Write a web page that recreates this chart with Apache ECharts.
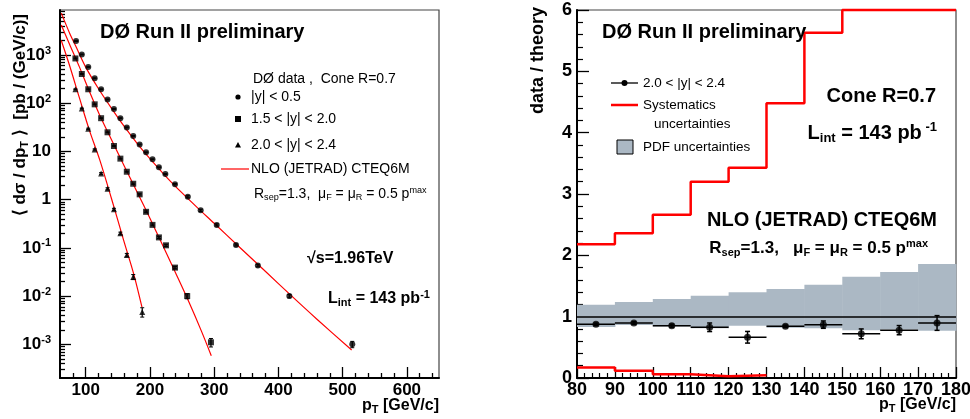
<!DOCTYPE html>
<html><head><meta charset="utf-8">
<script src="https://cdn.jsdelivr.net/npm/echarts@6/dist/echarts.min.js"></script>
<style>html,body{margin:0;padding:0;background:#fff}#c{width:970px;height:419px}</style>
</head><body><div id="c"></div>
<script>
// ---------- Left panel: <dsigma/dpT> [pb/(GeV/c)] ----------
const ptCentral = [85,94,104,114,124,134,144,154,164,174,184,194,204,214,224,239,259,279,304,334,368,417,515];
const xsCentral = [1950,1030,565,330,195,120,76,49,31.6,21,14,9.6,6.9,4.7,3.4,2.1,1.15,0.6,0.3,0.115,0.043,0.010,0.0010];
const errCentral = [0.02,0.02,0.02,0.02,0.02,0.02,0.02,0.02,0.02,0.02,0.02,0.02,0.02,0.02,0.02,0.03,0.05,0.05,0.05,0.05,0.06,0.08,0.15];
const ptFwd1 = [84,94,104,114,124,134,144,154,164,174,184,194,204,214,225,239,258,295];
const xsFwd1 = [850,405,195,95,49,25,13,7.1,3.8,2.14,1.29,0.56,0.30,0.165,0.113,0.039,0.010,0.0011];
const errFwd1 = [0.02,0.02,0.02,0.02,0.02,0.02,0.02,0.02,0.02,0.03,0.03,0.04,0.04,0.05,0.05,0.06,0.12,0.2];
const ptFwd2 = [84,94,104,114,124,134,144,154,164,174,188];
const xsFwd2 = [195,78,29.5,11,3.5,1.68,0.63,0.2,0.071,0.025,0.0047];
const errFwd2 = [0.02,0.02,0.03,0.03,0.04,0.05,0.05,0.06,0.08,0.12,0.22];
// NLO (JETRAD) CTEQ6M curves
const nloPtCentral = [62,75,85,100,120,140,160,180,200,225,250,275,300,340,380,420,460,514];
const nloCentral = [7400,2840,1480,562,200,79.4,33.1,14.8,7.08,3.02,1.38,0.661,0.324,0.102,0.0324,0.0102,0.00331,0.00076];
const nloPtFwd1 = [62,75,90,105,122,140,160,180,200,216,240,260,280,295.5];
const nloFwd1 = [4200,1660,575,186,56,17.8,5.0,1.45,0.41,0.145,0.030,0.0079,0.0019,0.00058];
const nloPtFwd2 = [62,75,90,105,122,140,159,175,187.6];
const nloFwd2 = [2000,600,132,29.5,6.6,1.07,0.145,0.028,0.0059];
// axis ticks (left)
const xMajorL = [100,200,300,400,500,600];
const yDecadesL = [1e-3,1e-2,1e-1,1,10,100,1000];

// ---------- Right panel: data / theory, 2.0<|y|<2.4 ----------
const binEdges = [80,90,100,110,120,130,140,150,160,170,180];
const ratio = [0.876,0.897,0.853,0.827,0.664,0.843,0.87,0.72,0.78,0.897];
const ratioErr = [0.02,0.02,0.025,0.07,0.095,0.02,0.06,0.08,0.075,0.12];
const pdfHigh = [1.196,1.24,1.29,1.34,1.40,1.45,1.52,1.65,1.73,1.86];
const pdfLow = [0.83,0.865,0.84,0.81,0.85,0.82,0.81,0.78,0.79,0.77];
const sysHigh = [2.18,2.36,2.66,3.20,3.43,4.48,5.63,6.0,6.0,6.0];
const sysLow = [0.17,0.12,0.06,0.03,0.045];

// ---------- build ----------
const FB = "'Liberation Sans', Arial, Helvetica, sans-serif";
const FN = "'Liberation Sans', Arial, Helvetica, sans-serif";
const BAND = '#abb8c4';
const RED = '#ff0000';

const xMinorL = []; for (let v = 80; v < 650; v += 20) if (v % 100) xMinorL.push(v);
const yMinorL = [];
for (let e = -4; e <= 3; e++) for (let k = 2; k <= 9; k++) { const v = +(k * Math.pow(10, e)).toPrecision(3); if (v > 2e-4 && v < 8600) yMinorL.push(v); }

const zip = (a, b) => a.map((x, i) => [x, b[i]]);
const centers = binEdges.slice(0, -1).map((e, i) => (e + binEdges[i + 1]) / 2);

function errLog(pts, vals, errs) {
  return {
    type: 'custom', xAxisIndex: 0, yAxisIndex: 0, z: 4, clip: false,
    data: pts.map((p, i) => [p, vals[i] * (1 - errs[i]), vals[i] * (1 + errs[i])]),
    renderItem: (params, api) => {
      const a = api.coord([api.value(0), api.value(1)]);
      const b = api.coord([api.value(0), api.value(2)]);
      return { type: 'group', children: [
        { type: 'line', shape: { x1: a[0], y1: a[1], x2: b[0], y2: b[1] }, style: { stroke: '#000', lineWidth: 1.2 } },
        { type: 'line', shape: { x1: a[0] - 2, y1: a[1], x2: a[0] + 2, y2: a[1] }, style: { stroke: '#000', lineWidth: 1 } },
        { type: 'line', shape: { x1: b[0] - 2, y1: b[1], x2: b[0] + 2, y2: b[1] }, style: { stroke: '#000', lineWidth: 1 } }
      ]};
    }
  };
}
function nlo(pts, vals) {
  return { type: 'line', xAxisIndex: 0, yAxisIndex: 0, data: zip(pts, vals), smooth: 0.3, showSymbol: false,
    lineStyle: { color: RED, width: 1.2 }, z: 2, silent: true };
}
function pts(p, v, sym, size) {
  return { type: 'scatter', xAxisIndex: 0, yAxisIndex: 0, data: zip(p, v), symbol: sym, symbolSize: size,
    itemStyle: { color: '#000' }, z: 5 };
}

const axisLineS = { show: true, lineStyle: { color: '#000', width: 2 } };
const tickS = (len, vals) => ({ show: true, inside: true, length: len, customValues: vals, lineStyle: { color: '#000', width: 1.3 } });
const noSplit = { show: false };

const sup = { fontSize: 11, fontWeight: 'bold', fontFamily: FB, color: '#000', padding: [0, 0, 9, 0] };

function txt(x, y, text, opts) {
  return { type: 'text', x: x, y: y, z: 100, style: Object.assign({ text: text, fill: '#000', align: 'left', verticalAlign: 'middle' }, opts) };
}
const bold = (size) => ({ font: 'bold ' + size + 'px ' + FB });
const richB = (size, sub, sup2) => ({
  n: { fontSize: size, fontWeight: 'bold', fontFamily: FB, color: '#000' },
  sub: { fontSize: sub, fontWeight: 'bold', fontFamily: FB, color: '#000', padding: [Math.round(size * 0.5), 0, 0, 0] },
  sup: { fontSize: sup2, fontWeight: 'bold', fontFamily: FB, color: '#000', padding: [0, 0, Math.round(size * 0.55), 0] }
});
const richN = (size) => ({
  n: { fontSize: size, fontFamily: FN, color: '#000' },
  sub: { fontSize: size * 0.65, fontFamily: FN, color: '#000', padding: [7, 0, 0, 0] },
  sup: { fontSize: size * 0.65, fontFamily: FN, color: '#000', padding: [0, 0, 8, 0] }
});

const graphics = [
  // left panel texts
  txt(100, 32, 'DØ Run II preliminary', bold(20)),
  txt(253, 79, 'DØ data ,  Cone R=0.7', { font: '14px ' + FN }),
  { type: 'circle', x: 238, y: 97, shape: { r: 2.6 }, style: { fill: '#000' }, z: 100 },
  txt(251, 97, '|y| < 0.5', { font: '14px ' + FN }),
  { type: 'rect', shape: { x: 235, y: 116, width: 6, height: 6 }, style: { fill: '#000' }, z: 100 },
  txt(251, 119, '1.5 < |y| < 2.0', { font: '14px ' + FN }),
  { type: 'polygon', shape: { points: [[238, 142], [241, 147.5], [235, 147.5]] }, style: { fill: '#000' }, z: 100 },
  txt(251, 145, '2.0 < |y| < 2.4', { font: '14px ' + FN }),
  { type: 'line', shape: { x1: 221, y1: 169, x2: 249, y2: 169 }, style: { stroke: RED, lineWidth: 1.2 }, z: 100 },
  txt(251, 169, 'NLO (JETRAD) CTEQ6M', { font: '14px ' + FN }),
  txt(254, 194, '{n|R}{sub|sep}{n|=1.3,  μ}{sub|F}{n| = μ}{sub|R}{n| = 0.5 p}{sup|max}', { rich: richN(14) }),
  txt(307, 259, '√s=1.96TeV', bold(16)),
  txt(328, 299, '{n|L}{sub|int}{n| = 143 pb}{sup|-1}', { rich: richB(16, 11, 11) }),
  // axis titles left
  { type: 'text', x: 20, y: 14, rotation: Math.PI / 2, z: 100,
    style: { text: '{n|⟨ dσ / dp}{sub|T}{n| ⟩  [pb / (GeV/c)]}', rich: richB(17, 11, 11), align: 'right', verticalAlign: 'middle' } },
  txt(439, 406, '{n|p}{sub|T}{n| [GeV/c]}', { rich: richB(16, 11, 11), align: 'right' }),
  // right panel texts
  txt(602, 32, 'DØ Run II preliminary', bold(20)),
  { type: 'line', shape: { x1: 611, y1: 83, x2: 638, y2: 83 }, style: { stroke: '#000', lineWidth: 1.3 }, z: 100 },
  { type: 'circle', x: 624.5, y: 83, shape: { r: 3 }, style: { fill: '#000' }, z: 100 },
  txt(643, 83, '2.0 < |y| < 2.4', { font: '13.5px ' + FN }),
  { type: 'line', shape: { x1: 611, y1: 105, x2: 638, y2: 105 }, style: { stroke: RED, lineWidth: 2.5 }, z: 100 },
  txt(643, 105, 'Systematics', { font: '13.5px ' + FN }),
  txt(654, 124, 'uncertainties', { font: '13.5px ' + FN }),
  { type: 'rect', shape: { x: 617, y: 140, width: 16, height: 14 }, style: { fill: BAND, stroke: '#000', lineWidth: 1 }, z: 100 },
  txt(643, 147, 'PDF uncertainties', { font: '13.5px ' + FN }),
  txt(936, 96, 'Cone R=0.7', Object.assign(bold(20), { align: 'right' })),
  txt(937, 133, '{n|L}{sub|int}{n| = 143 pb}{sup| -1}', { rich: richB(20, 13, 13), align: 'right' }),
  txt(937, 220, 'NLO (JETRAD) CTEQ6M', Object.assign(bold(20), { align: 'right' })),
  txt(928, 248, '{n|R}{sub|sep}{n|=1.3,   μ}{sub|F}{n| = μ}{sub|R}{n| = 0.5 p}{sup|max}', { rich: richB(17, 11, 11), align: 'right' }),
  { type: 'text', x: 538, y: 7, rotation: Math.PI / 2, z: 100,
    style: { text: 'data / theory', font: 'bold 18px ' + FB, fill: '#000', align: 'right', verticalAlign: 'middle' } },
  txt(956, 405, '{n|p}{sub|T}{n| [GeV/c]}', { rich: richB(16, 11, 11), align: 'right' })
];

const option = {
  animation: false,
  backgroundColor: '#fff',
  grid: [
    { left: 60, top: 10, width: 379, height: 368, show: true, borderColor: '#444', borderWidth: 1.2, backgroundColor: 'transparent', containLabel: false, outerBoundsMode: 'none' },
    { left: 577, top: 10, width: 379, height: 368, show: true, borderColor: '#444', borderWidth: 1.2, backgroundColor: 'transparent', containLabel: false, outerBoundsMode: 'none' }
  ],
  xAxis: [
    { gridIndex: 0, type: 'value', min: 60, max: 650, axisLine: axisLineS, splitLine: noSplit,
      axisTick: tickS(11, xMajorL),
      axisLabel: { customValues: xMajorL, fontSize: 17, fontWeight: 'bold', fontFamily: FB, color: '#000', margin: 4 } },
    { gridIndex: 0, type: 'value', min: 60, max: 650, position: 'bottom', axisLine: { show: false }, splitLine: noSplit,
      axisTick: tickS(5, xMinorL), axisLabel: { show: true, customValues: xMinorL, formatter: () => '' } },
    { gridIndex: 1, type: 'value', min: 80, max: 180, interval: 10, axisLine: axisLineS, splitLine: noSplit,
      axisTick: { show: true, inside: true, length: 11, lineStyle: { color: '#000', width: 1.3 } },
      minorTick: { show: true, splitNumber: 5, length: 5, lineStyle: { color: '#000', width: 1.2 } },
      axisLabel: { fontSize: 18, fontWeight: 'bold', fontFamily: FB, color: '#000', margin: 3 } }
  ],
  yAxis: [
    { gridIndex: 0, type: 'log', logBase: 10, min: 2e-4, max: 8600, axisLine: axisLineS, splitLine: noSplit,
      axisTick: tickS(11, yDecadesL),
      axisLabel: { customValues: yDecadesL, margin: 9, color: '#000',
        formatter: (v) => { const e = Math.round(Math.log10(v)); if (e === 0) return '{b|1}'; if (e === 1) return '{b|10}'; return '{b|10}{s|' + e + '}'; },
        rich: { b: { fontSize: 17, fontWeight: 'bold', fontFamily: FB, color: '#000' }, s: sup } } },
    { gridIndex: 0, type: 'log', logBase: 10, min: 2e-4, max: 8600, position: 'left', axisLine: { show: false }, splitLine: noSplit,
      axisTick: tickS(5, yMinorL), axisLabel: { show: true, customValues: yMinorL, formatter: () => '' } },
    { gridIndex: 1, type: 'value', min: 0, max: 6, interval: 1, axisLine: axisLineS, splitLine: noSplit,
      axisTick: { show: true, inside: true, length: 12, lineStyle: { color: '#000', width: 1.3 } },
      minorTick: { show: true, splitNumber: 5, length: 6, lineStyle: { color: '#000', width: 1.2 } },
      axisLabel: { fontSize: 18, fontWeight: 'bold', fontFamily: FB, color: '#000', margin: 5 } }
  ],
  series: [
    nlo(nloPtCentral, nloCentral), nlo(nloPtFwd1, nloFwd1), nlo(nloPtFwd2, nloFwd2),
    errLog(ptCentral, xsCentral, errCentral), errLog(ptFwd1, xsFwd1, errFwd1), errLog(ptFwd2, xsFwd2, errFwd2),
    pts(ptCentral, xsCentral, 'circle', 6), pts(ptFwd1, xsFwd1, 'rect', 6), pts(ptFwd2, xsFwd2, 'triangle', 6),
    // right: PDF band
    { type: 'custom', xAxisIndex: 2, yAxisIndex: 2, z: 1, silent: true,
      data: pdfHigh.map((h, i) => [binEdges[i], binEdges[i + 1], pdfLow[i], h]),
      renderItem: (params, api) => {
        const p1 = api.coord([api.value(0), api.value(3)]);
        const p2 = api.coord([api.value(1), api.value(2)]);
        return { type: 'rect', shape: { x: p1[0], y: p1[1], width: p2[0] - p1[0] + 0.5, height: p2[1] - p1[1] }, style: { fill: BAND } };
      } },
    // systematics steps
    { type: 'line', xAxisIndex: 2, yAxisIndex: 2, step: 'end', showSymbol: false, clip: false, z: 3, silent: true,
      data: binEdges.map((e, i) => [e, sysHigh[Math.min(i, sysHigh.length - 1)]]),
      lineStyle: { color: RED, width: 2.5 } },
    { type: 'line', xAxisIndex: 2, yAxisIndex: 2, step: 'end', showSymbol: false, z: 3, silent: true,
      data: binEdges.slice(0, sysLow.length + 1).map((e, i) => [e, sysLow[Math.min(i, sysLow.length - 1)]]),
      lineStyle: { color: RED, width: 2.5 } },
    // error bars (bin width + stat)
    { type: 'custom', xAxisIndex: 2, yAxisIndex: 2, z: 4, silent: true,
      data: ratio.map((r, i) => [binEdges[i], binEdges[i + 1], centers[i], r, ratioErr[i]]),
      renderItem: (params, api) => {
        const l = api.coord([api.value(0), api.value(3)]);
        const r = api.coord([api.value(1), api.value(3)]);
        const lo = api.coord([api.value(2), api.value(3) - api.value(4)]);
        const hi = api.coord([api.value(2), api.value(3) + api.value(4)]);
        const st = { stroke: '#000', lineWidth: 1.5 };
        return { type: 'group', children: [
          { type: 'line', shape: { x1: l[0], y1: l[1], x2: r[0], y2: r[1] }, style: st },
          { type: 'line', shape: { x1: lo[0], y1: lo[1], x2: hi[0], y2: hi[1] }, style: st },
          { type: 'line', shape: { x1: lo[0] - 2.5, y1: lo[1], x2: lo[0] + 2.5, y2: lo[1] }, style: st },
          { type: 'line', shape: { x1: hi[0] - 2.5, y1: hi[1], x2: hi[0] + 2.5, y2: hi[1] }, style: st }
        ]};
      } },
    { type: 'scatter', xAxisIndex: 2, yAxisIndex: 2, z: 5, symbol: 'circle', symbolSize: 7,
      data: zip(centers, ratio), itemStyle: { color: '#000' },
      markLine: { silent: true, symbol: ['none', 'none'], label: { show: false },
        lineStyle: { color: '#000', width: 1.5, type: 'solid' }, data: [{ yAxis: 1 }] } }
  ],
  graphic: graphics
};
const chart = echarts.init(document.getElementById('c'));
chart.setOption(option);
</script></body></html>
